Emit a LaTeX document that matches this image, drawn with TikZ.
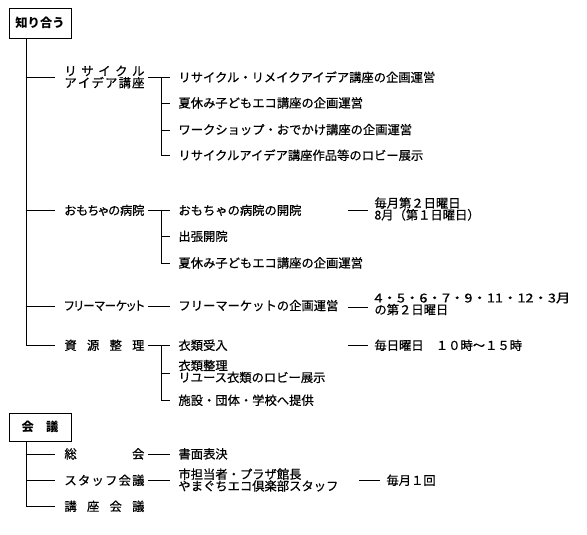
\documentclass[tikz,border=0pt]{standalone}
\usepackage{fontspec}
\setmainfont{Noto Sans CJK JP}[FakeBold=0.6,BoldFeatures={FakeBold=0}]
\usepackage{graphicx}
\newcommand\jst[1]{\makebox[80pt][s]{#1}}
\newcommand\shr[1]{\resizebox{80pt}{\height}{#1}}
\begin{document}
\begin{tikzpicture}[x=1pt,y=-1pt,line width=0.9pt,
  txt/.style={font=\fontsize{12.3}{12}\selectfont,inner sep=0pt,anchor=west,text height=10pt,text depth=1.5pt},
  txttwo/.style={font=\fontsize{12.3}{11.8}\selectfont,inner sep=0pt,anchor=west,align=left},
  lbox/.style={draw,minimum width=62pt,inner sep=0pt,font=\fontsize{12.3}{12}\selectfont\bfseries}]
\useasboundingbox (0,0) rectangle (587,535);
\coordinate (x26) at (26,0);
\coordinate (x55) at (55,0);
\coordinate (x148) at (148,0);
\coordinate (x161) at (161,0);
\coordinate (x170) at (170,0);
\coordinate (x348) at (348,0);
\coordinate (x368) at (368,0);
\coordinate (x359) at (359,0);
\coordinate (x380) at (380,0);

% boxes
\node[lbox,minimum height=30pt] (k1) at (40,23) {知り合う};
\node[lbox,minimum height=28pt] (k2) at (40,427) {会　議};

% level 1
\node[txttwo] (A) at (64,77) {\jst{リ\hfill サ\hfill イ\hfill ク\hfill ル}\\\jst{ア\hfill イ\hfill デ\hfill ア\hfill 講\hfill 座}};
\node[txt] (B) at (64,210.7) {\shr{\addfontfeatures{RawFeature=+palt}おもちゃの病院}};
\node[txt] (C) at (64,306) {\shr{\addfontfeatures{RawFeature=+palt}フリーマーケット}};
\node[txt] (D) at (64,345.7) {\jst{資\hfill 源\hfill 整\hfill 理}};
\node[txt] (E) at (64,454.3) {\jst{総\hfill 会}};
\node[txt] (F) at (64,480.7) {\jst{ス\hfill タ\hfill ッ\hfill フ\hfill 会\hfill 議}};
\node[txt] (G) at (64,506.7) {\jst{講\hfill 座\hfill 会\hfill 議}};

% level 2
\node[txt] (A1) at (178,77.7) {リサイクル・リメイクアイデア講座の企画運営};
\node[txt] (A2) at (178,103.3) {夏休み子どもエコ講座の企画運営};
\node[txt] (A3) at (178,130) {ワークショップ・おでかけ講座の企画運営};
\node[txt] (A4) at (178,155.7) {リサイクルアイデア講座作品等のロビー展示};
\node[txt] (B1) at (178,210.7) {おもちゃの病院の開院};
\node[txt] (B2) at (178,236.7) {出張開院};
\node[txt] (B3) at (178,263.3) {夏休み子どもエコ講座の企画運営};
\node[txt] (C1) at (178,306) {フリーマーケットの企画運営};
\node[txt] (D1) at (178,345.7) {衣類受入};
\node[txttwo] (D2) at (178,371.5) {衣類整理\\リユース衣類のロビー展示};
\node[txt] (D3) at (178,400.7) {施設・団体・学校へ提供};
\node[txt] (E1) at (178,454.3) {書面表決};
\node[txttwo] (F1) at (178,480) {市担当者・プラザ館長\\やまぐちエコ倶楽部スタッフ};

% notes
\node[txttwo] (BN) at (374,209) {毎月第２日曜日\\8月（第１日曜日）};
\node[txttwo] (CN) at (374,304) {\resizebox{196pt}{\height}{4・5・6・7・9・11・12・3月}\\の第２日曜日};
\node[txt] (DN) at (374,345.7) {毎日曜日　１０時～１５時};
\node[txt] (FN) at (386,480.7) {毎月１回};

% trunks
\foreach \n in {A,B,C,D} \draw (k1.south -| x26) |- (\n.west -| x55);
\foreach \n in {E,F,G} \draw (k2.south -| x26) |- (\n.west -| x55);

% level1 -> level2
\foreach \c in {A1,B1,C1,D1,E1,F1} \draw (\c.west -| x148) -- (\c.west -| x170);
\draw (A1.west -| x161) |- (A4.west -| x170);
\foreach \c in {A2,A3} \draw (\c.west -| x161) -- (\c.west -| x170);
\draw (B1.west -| x161) |- (B3.west -| x170);
\draw (B2.west -| x161) -- (B2.west -| x170);
\draw (D1.west -| x161) |- (D3.west -| x170);
\draw ([yshift=-1.5pt]D2.west -| x161) -- ([yshift=-1.5pt]D2.west -| x170);

% notes connectors
\draw (B1.west -| x348) -- (B1.west -| x368);
\draw ([yshift=-1pt]C1.west -| x348) -- ([yshift=-1pt]C1.west -| x368);
\draw (D1.west -| x348) -- (D1.west -| x368);
\draw (FN.west -| x359) -- (FN.west -| x380);
\end{tikzpicture}
\end{document}
